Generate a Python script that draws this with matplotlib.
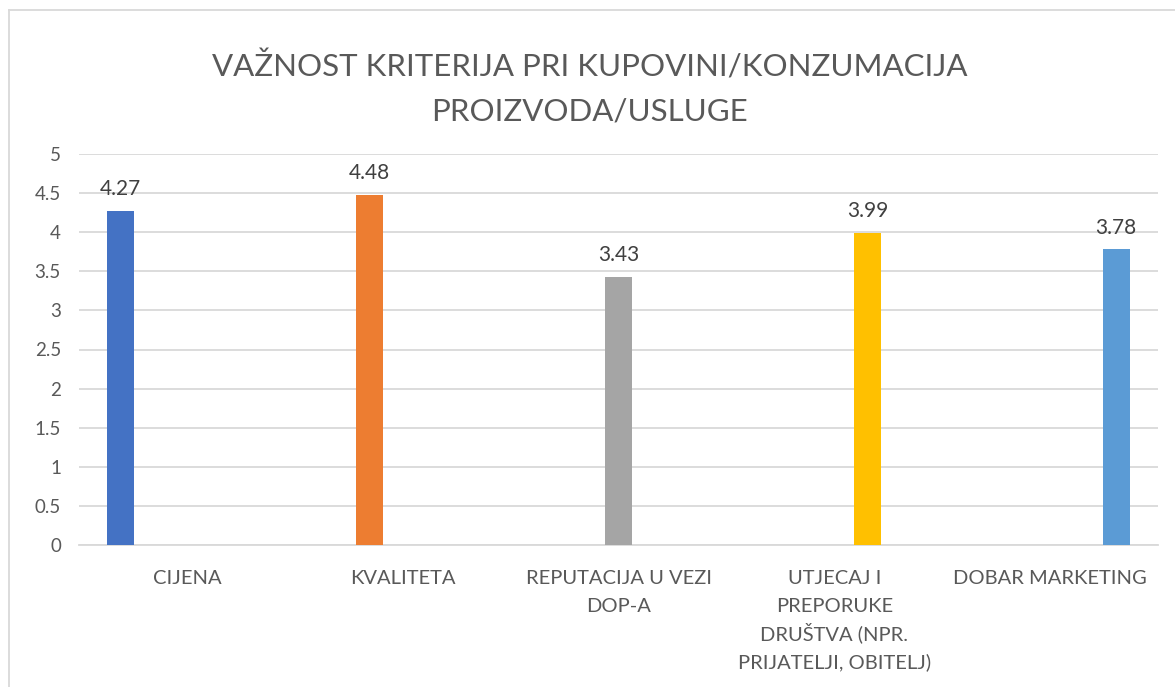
import matplotlib.pyplot as plt
import matplotlib.transforms as mtransforms
from matplotlib.lines import Line2D

categories = [
    "CIJENA",
    "KVALITETA",
    "REPUTACIJA U VEZI\nDOP-A",
    "UTJECAJ I\nPREPORUKE\nDRUŠTVA (NPR.\nPRIJATELJI, OBITELJ)",
    "DOBAR MARKETING",
]
values = [4.27, 4.48, 3.43, 3.99, 3.78]
colors = ["#4472C4", "#ED7D31", "#A5A5A5", "#FFC000", "#5B9BD5"]
yticks = [0, 0.5, 1, 1.5, 2, 2.5, 3, 3.5, 4, 4.5, 5]
title_lines = ["VAŽNOST KRITERIJA PRI KUPOVINI/KONZUMACIJA", "PROIZVODA/USLUGE"]

plt.rcParams["font.family"] = ["Lato", "DejaVu Sans"]

W, H = 1175, 687
fig = plt.figure(figsize=(W / 100, H / 100), dpi=100)
ax = fig.add_axes([79 / W, 1 - 545 / H, (1158 - 79) / W, (545 - 154) / H])

# each category is its own series in an Excel-style clustered chart
step = 0.153
width = 0.125
n = len(values)
for i, (v, c) in enumerate(zip(values, colors)):
    x = i + (i - (n - 1) / 2) * step
    ax.bar(x, v, width=width, color=c, zorder=3)
    ax.text(x, v + 0.15, f"{v:.2f}", ha="center", va="bottom",
            fontsize=15, color="#404040", zorder=4)

ax.set_xlim(-0.5, n - 0.5)
ax.set_ylim(0, 5)
ax.set_yticks(yticks)
ax.set_yticklabels([f"{t:g}" for t in yticks], fontsize=13.5, color="#595959")
ax.set_xticks(range(n))
ax.set_xticklabels([])
ax.tick_params(axis="both", length=0)
ax.tick_params(axis="y", pad=13)
ax.grid(True, axis="y", color="#D9D9D9", linewidth=1.3, zorder=0)
for s in ["top", "right", "left"]:
    ax.spines[s].set_visible(False)
ax.spines["bottom"].set_color("#D9D9D9")
ax.spines["bottom"].set_linewidth(1.3)

# category labels, one text per line so the spacing stays even
trans = mtransforms.blended_transform_factory(ax.transData, fig.transFigure)
for i, label in enumerate(categories):
    for k, line in enumerate(label.split("\n")):
        ax.text(i, 1 - (584 + 28 * k) / H, line, transform=trans,
                ha="center", va="baseline", fontsize=14.5, color="#595959")

for k, line in enumerate(title_lines):
    fig.text(590 / W, 1 - (77 + 43 * k) / H, line,
             ha="center", va="baseline", fontsize=22.5, color="#595959")

# chart area border (only left and top visible in the crop)
fig.add_artist(Line2D([8.5 / W, 8.5 / W], [0, 1 - 9.5 / H], transform=fig.transFigure,
                      color="#D9D9D9", linewidth=1.3))
fig.add_artist(Line2D([8.5 / W, 1], [1 - 9.5 / H, 1 - 9.5 / H], transform=fig.transFigure,
                      color="#D9D9D9", linewidth=1.3))

fig.savefig("out.png", dpi=100)
